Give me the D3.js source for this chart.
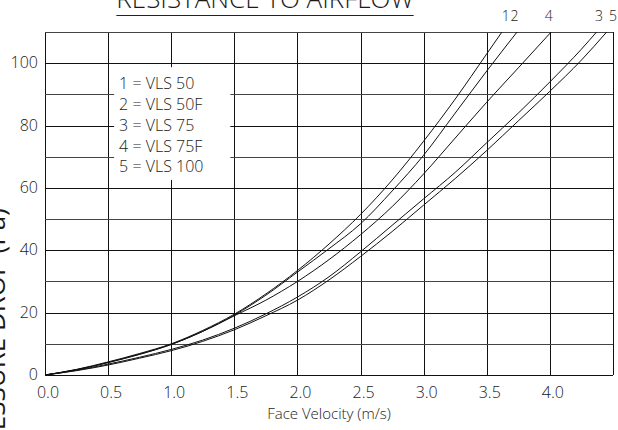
<!DOCTYPE html>
<html>
<head>
<meta charset="utf-8">
<script src="https://cdn.jsdelivr.net/npm/d3@7"></script>
<style>
  body { margin: 0; background: #fff; }
  svg { display: block; font-family: "Open Sans", sans-serif; font-weight: 300; }
</style>
</head>
<body>
<div id="root"></div>
<script>
// Data: face velocity (m/s) vs pressure drop (Pa)
const seriesNames = ["VLS 50", "VLS 50F", "VLS 75", "VLS 75F", "VLS 100"];
const seriesIds = ["1", "2", "3", "4", "5"];

const velocity1 = [0, 0.25, 0.5, 0.75, 1.0, 1.25, 1.5, 1.75, 2.0, 2.25, 2.5, 2.75, 3.0, 3.25, 3.5, 3.62];
const drop1 = [0, 1.8, 4.2, 6.9, 10, 14.3, 19.5, 26, 33.5, 42, 51.5, 62.5, 75, 88.5, 103, 110];

const velocity2 = [0, 0.25, 0.5, 0.75, 1.0, 1.25, 1.5, 1.75, 2.0, 2.25, 2.5, 2.75, 3.0, 3.25, 3.5, 3.74];
const drop2 = [0, 1.7, 4.0, 6.7, 9.8, 14, 19.2, 25.6, 33, 40.5, 48.5, 59, 70.5, 84, 97.5, 110];

const velocity3 = [0, 0.25, 0.5, 0.75, 1.0, 1.25, 1.5, 1.75, 2.0, 2.25, 2.5, 2.75, 3.0, 3.25, 3.5, 3.75, 4.0, 4.25, 4.37];
const drop3 = [0, 1.5, 3.5, 5.7, 8.2, 11.2, 15, 19.6, 25, 31.5, 39.5, 48, 56.5, 65, 74.5, 84, 94, 104.5, 110];

const velocity4 = [0, 0.25, 0.5, 0.75, 1.0, 1.25, 1.5, 1.75, 2.0, 2.25, 2.5, 2.75, 3.0, 3.25, 3.5, 3.75, 4.01];
const drop4 = [0, 1.7, 4.0, 6.6, 9.8, 14, 19, 24, 30, 37, 45, 54, 64.5, 76, 87.5, 98.5, 110];

const velocity5 = [0, 0.25, 0.5, 0.75, 1.0, 1.25, 1.5, 1.75, 2.0, 2.25, 2.5, 2.75, 3.0, 3.25, 3.5, 3.75, 4.0, 4.25, 4.45];
const drop5 = [0, 1.4, 3.2, 5.4, 7.8, 10.8, 14.5, 19, 24, 30.5, 38, 46, 54.5, 63, 72, 81.5, 91, 101, 110];

// where each curve number sits above the plot (m/s), in series order 1..5
const labelVelocity = [3.65, 3.72, 4.39, 3.99, 4.5];

const xTicks = [0, 0.5, 1.0, 1.5, 2.0, 2.5, 3.0, 3.5, 4.0];
const xGrid = [0, 0.5, 1.0, 1.5, 2.0, 2.5, 3.0, 3.5, 4.0, 4.5];
const yTicks = [0, 20, 40, 60, 80, 100];
const yGrid = [0, 10, 20, 30, 40, 50, 60, 70, 80, 90, 100, 110];

const velocities = [velocity1, velocity2, velocity3, velocity4, velocity5];
const drops = [drop1, drop2, drop3, drop4, drop5];

const width = 618;
const height = 430;

const svg = d3.select("#root")
  .append("svg")
  .attr("width", width)
  .attr("height", height);

const x = d3.scaleLinear().domain([0, 4.5]).range([45, 613]);
const y = d3.scaleLinear().domain([0, 110]).range([375, 32]);

// Grid
const grid = svg.append("g").attr("shape-rendering", "crispEdges");
grid.selectAll("line.v")
  .data(xGrid)
  .enter()
  .append("line")
  .attr("class", "v")
  .attr("x1", (d) => Math.round(x(d)) + 0.5)
  .attr("x2", (d) => Math.round(x(d)) + 0.5)
  .attr("y1", y(110))
  .attr("y2", y(0))
  .attr("stroke", "#111");
grid.selectAll("line.h")
  .data(yGrid)
  .enter()
  .append("line")
  .attr("class", "h")
  .attr("x1", x(0))
  .attr("x2", x(4.5))
  .attr("y1", (d) => Math.round(y(d)) + 0.5)
  .attr("y2", (d) => Math.round(y(d)) + 0.5)
  .attr("stroke", (d) => (d % 20 === 0 ? "#111" : "#444"));

// Legend box sits on top of the grid
svg.append("rect")
  .attr("x", x(0.5) + 6)
  .attr("y", y(100) + 4)
  .attr("width", x(1.5) - x(0.5) - 10)
  .attr("height", y(60) - y(100) - 12)
  .attr("fill", "#fff");

const legend = svg.append("g");
legend.selectAll("text")
  .data(seriesIds)
  .enter()
  .append("text")
  .attr("x", x(0.5) + 11)
  .attr("y", (d, i) => y(100) + 26 + i * 20.8)
  .attr("font-size", "16px")
  .attr("fill", "#1a1a1a")
  .text((d, i) => `${d} = ${seriesNames[i]}`);

// Curves
const line = d3.line()
  .x((d) => x(d[0]))
  .y((d) => y(d[1]))
  .curve(d3.curveMonotoneX);

svg.append("defs")
  .append("clipPath")
  .attr("id", "plot-clip")
  .append("rect")
  .attr("x", x(0))
  .attr("y", y(110))
  .attr("width", x(4.5) - x(0))
  .attr("height", y(0) - y(110));

svg.append("g")
  .attr("clip-path", "url(#plot-clip)")
  .selectAll("path")
  .data(velocities.map((v, i) => v.map((vv, j) => [vv, drops[i][j]])))
  .enter()
  .append("path")
  .attr("d", line)
  .attr("fill", "none")
  .attr("stroke", "#111")
  .attr("stroke-width", 1);

// Curve numbers above the plot
svg.selectAll("text.curve-id")
  .data(seriesIds)
  .enter()
  .append("text")
  .attr("class", "curve-id")
  .attr("x", (d, i) => x(labelVelocity[i]))
  .attr("y", 21)
  .attr("text-anchor", "middle")
  .attr("font-size", "14px")
  .attr("fill", "#1a1a1a")
  .text((d) => d);

// Axes labels
svg.selectAll("text.xtick")
  .data(xTicks)
  .enter()
  .append("text")
  .attr("class", "xtick")
  .attr("x", (d) => x(d) + 3)
  .attr("y", 398)
  .attr("text-anchor", "middle")
  .attr("font-size", "16px")
  .attr("fill", "#1a1a1a")
  .text((d) => d.toFixed(1));

svg.selectAll("text.ytick")
  .data(yTicks)
  .enter()
  .append("text")
  .attr("class", "ytick")
  .attr("x", 38)
  .attr("y", (d) => y(d) + 5)
  .attr("text-anchor", "end")
  .attr("font-size", "16px")
  .attr("fill", "#1a1a1a")
  .text((d) => d);

svg.append("text")
  .attr("x", (x(0) + x(4.5)) / 2)
  .attr("y", 419)
  .attr("text-anchor", "middle")
  .attr("font-size", "15px")
  .attr("fill", "#1a1a1a")
  .text("Face Velocity (m/s)");

// Title, cut off at the top like the source
const title = svg.append("text")
  .attr("x", 265)
  .attr("y", 8)
  .attr("text-anchor", "middle")
  .attr("font-size", "26px")
  .attr("fill", "#1a1a1a")
  .text("RESISTANCE TO AIRFLOW");
const tb = title.node().getBBox();
svg.append("line")
  .attr("x1", tb.x)
  .attr("x2", tb.x + tb.width)
  .attr("y1", 15.5)
  .attr("y2", 15.5)
  .attr("stroke", "#222");

// Y title, mostly off the left edge
svg.append("text")
  .attr("transform", "translate(5,335) rotate(-90)")
  .attr("text-anchor", "middle")
  .attr("font-size", "26px")
  .attr("font-weight", 400)
  .attr("fill", "#1a1a1a")
  .text("PRESSURE DROP (Pa)");
</script>
</body>
</html>
